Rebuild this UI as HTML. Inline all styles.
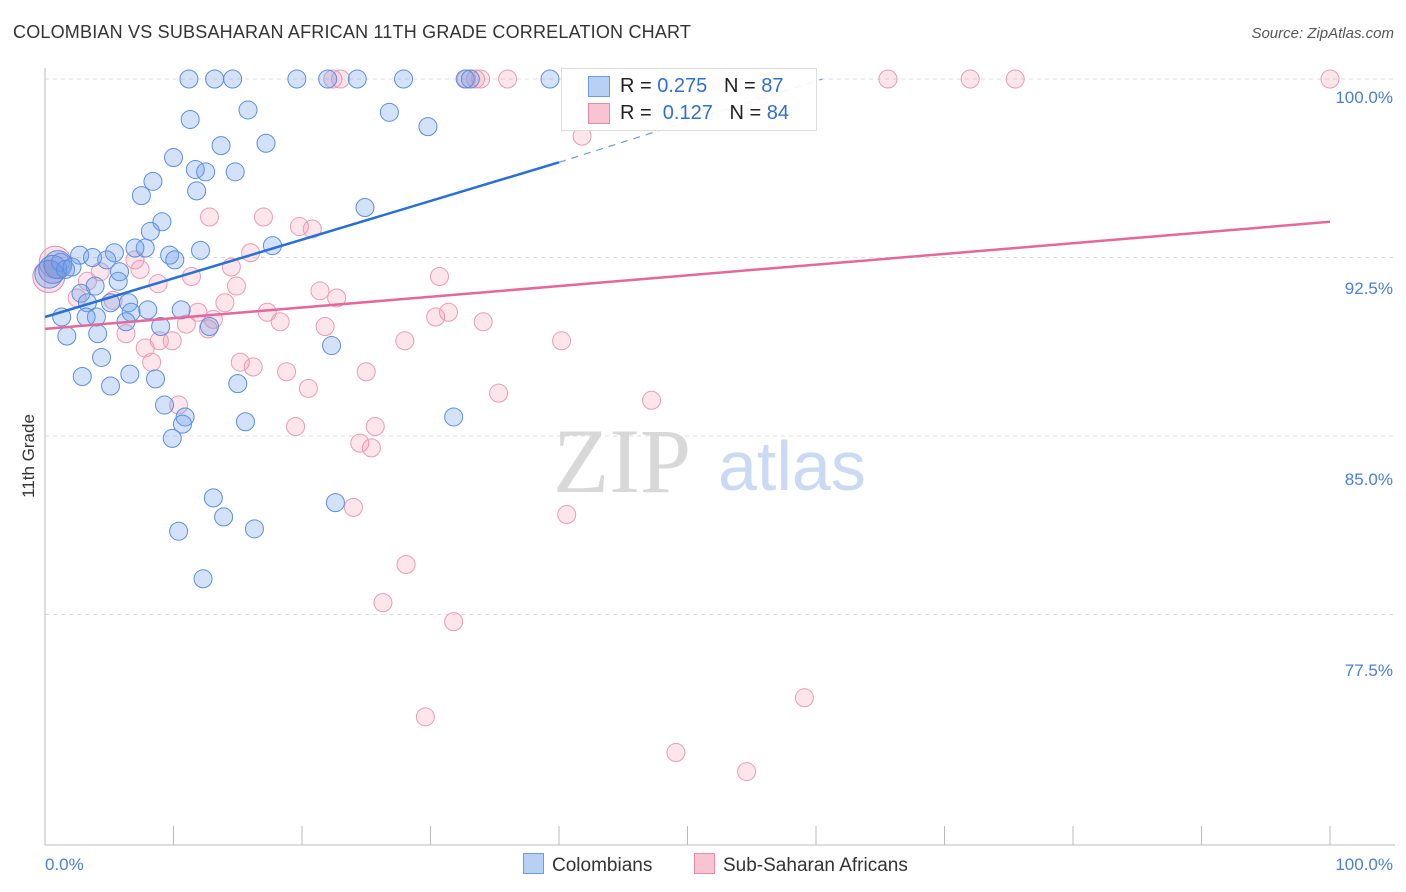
<!DOCTYPE html>
<html><head><meta charset="utf-8">
<style>
body{margin:0;background:#fff;font-family:"Liberation Sans",sans-serif;}
#wrap{position:relative;width:1406px;height:892px;overflow:hidden;}
.t{position:absolute;white-space:nowrap;}
</style></head>
<body>
<div id="wrap">
<div class="t" style="left:13px;top:22px;font-size:18px;color:#333;letter-spacing:0.2px;">COLOMBIAN VS SUBSAHARAN AFRICAN 11TH GRADE CORRELATION CHART</div>
<div class="t" style="right:12px;top:25px;font-size:15px;color:#555;font-style:italic;">Source: ZipAtlas.com</div>
<svg id="svg" width="1406" height="892" style="position:absolute;left:0;top:0"></svg>
</div>
<script>
const yTicks=[100,92.5,85,77.5];
const yTickLabels=["100.0%","92.5%","85.0%","77.5%"];
const xTickLabels=["0.0%","100.0%"];
const blueX=[11.2,13.2,14.6,19.6,22.0,24.3,27.9,32.7,33.1,39.3,11.3,15.8,13.7,17.2,26.8,29.8,8.4,7.5,11.7,12.5,14.8,11.8,10.0,9.1,8.2,24.9,17.7,12.1,7.8,7.0,9.7,10.1,5.4,4.8,2.7,3.7,1.2,1.6,2.1,5.8,5.7,3.9,2.8,3.3,5.1,6.5,6.7,8.0,10.6,12.8,9.0,6.3,1.3,4.0,3.2,1.7,4.1,22.3,4.4,2.9,5.1,6.6,8.6,15.0,9.3,10.9,10.7,9.9,15.6,31.8,13.1,13.9,10.4,16.3,22.6,12.3];
const blueY=[100,100,100,100,100,100,100,100,100,100,98.3,98.7,97.2,97.3,98.6,98.0,95.7,95.1,96.2,96.1,96.1,95.3,96.7,94.0,93.6,94.6,93.0,92.8,92.9,92.9,92.6,92.4,92.7,92.4,92.6,92.5,92.3,92.0,92.1,91.9,91.5,91.3,91.0,90.6,90.6,90.6,90.2,90.3,90.3,89.6,89.6,89.8,90.0,90.0,90.0,89.2,89.3,88.8,88.3,87.5,87.1,87.6,87.4,87.2,86.3,85.8,85.5,84.9,85.6,85.8,82.4,81.6,81.0,81.1,82.2,79.0];
const pinkX=[22.4,23.0,32.8,33.5,33.9,36.0,43.0,52.4,65.6,72.0,75.5,100,41.8,55.6,12.8,17.0,19.8,20.8,30.7,16.0,14.5,11.4,7.0,7.4,4.3,3.3,2.5,5.3,8.8,14.9,21.4,22.7,14.0,11.9,11.0,6.3,8.9,9.9,13.1,17.3,18.3,21.8,30.4,31.4,34.1,40.2,28.0,15.2,16.2,18.8,20.5,25.0,35.3,47.2,10.4,12.7,19.5,24.5,25.4,25.7,24.0,40.6,28.1,26.3,31.8,29.6,59.1,49.1,54.6,8.3,7.8];
const pinkY=[100,100,100,100,100,100,100,100,100,100,100,100,97.6,98.9,94.2,94.2,93.8,93.7,91.7,92.7,92.1,91.7,92.4,92.0,91.9,91.5,90.8,90.7,91.4,91.3,91.1,90.8,90.6,90.2,89.7,89.3,89.0,89.0,89.9,90.2,89.8,89.6,90.0,90.2,89.8,89.0,89.0,88.1,87.9,87.7,87.0,87.7,86.8,86.5,86.3,89.5,85.4,84.7,84.5,85.4,82.0,81.7,79.6,78.0,77.2,73.2,74.0,71.7,70.9,88.1,88.7];
const bigBlueX=[0.6,1.0,0.3];
const bigBlueY=[92.0,92.2,91.8];
const bigPinkX=[0.8,0.3];
const bigPinkY=[92.3,91.7];
const blueTrend=[[0,90.0],[40,96.5]];
const blueTrendDash=[[40,96.5],[60.5,100]];
const pinkTrend=[[0,89.5],[100,94.0]];

const X0=45,X1=1330,Y100=79,PXPER=178.5/7.5,YB=845;
const sx=v=>X0+(X1-X0)*v/100;
const sy=v=>Y100+(100-v)*PXPER;
const svg=document.getElementById('svg');
const NS='http://www.w3.org/2000/svg';
function mk(tag,attrs){const e=document.createElementNS(NS,tag);for(const k in attrs)e.setAttribute(k,attrs[k]);svg.appendChild(e);return e;}

yTicks.forEach((v,i)=>{
  const g=mk('line',{x1:X0,x2:1395,y1:sy(v),y2:sy(v),stroke:'#ddd','stroke-dasharray':'4,4'});
  
  
  const labY=[97,288,479,670][i];
  const t=mk('text',{x:1393,y:labY+6,'text-anchor':'end','font-size':17,fill:'#4a7fd4','font-family':'Liberation Sans, sans-serif'});
  t.textContent=yTickLabels[i];
  
  
});
const ax=mk('line',{x1:X0,x2:1395,y1:YB,y2:YB,stroke:'#bbb'});


const ay=mk('line',{x1:X0,x2:X0,y1:68,y2:YB,stroke:'#bbb'});


for(let i=0;i<=10;i++){
  const tk=mk('line',{x1:sx(i*10),x2:sx(i*10),y1:826,y2:YB,stroke:'#bbb'});
  
  
}
[[45,'start',0],[1393,'end',1]].forEach(([x,a,i])=>{
  const t=mk('text',{x:x,y:870,'text-anchor':a,'font-size':17,fill:'#4a7fd4','font-family':'Liberation Sans, sans-serif'});
  t.textContent=xTickLabels[i];
  
  
});
const yt=mk('text',{x:34,y:456,'text-anchor':'middle','font-size':17,fill:'#333',transform:'rotate(-90 34 456)','font-family':'Liberation Sans, sans-serif'});
yt.textContent='11th Grade';



// watermark
const w1=mk('text',{x:553,y:492,'font-size':92,fill:'#d8d8d8','font-family':'Liberation Serif, serif'});
w1.textContent='ZIP';


const w2=mk('text',{x:718,y:490,'font-size':70,fill:'#c9daf2','font-family':'Liberation Sans, sans-serif'});
w2.textContent='atlas';



function dots(xs,ys,r,fill,stroke,name){
  xs.forEach((v,i)=>{
    const c=mk('circle',{cx:sx(v),cy:sy(ys[i]),r:r,fill:fill,stroke:stroke,'stroke-width':1});
    
    
  });
}
dots(bigPinkX,bigPinkY,16,'rgba(240,140,170,0.25)','#e88aa8','pink-point-large');
dots(bigBlueX,bigBlueY,14,'rgba(90,140,225,0.3)','#5b8fdf','blue-point-large');
dots(pinkX,pinkY,9,'rgba(240,140,170,0.22)','#ec9ab5','pink-point');
dots(blueX,blueY,9,'rgba(110,160,235,0.3)','#5b8fdf','blue-point');

const bl=mk('line',{x1:sx(blueTrend[0][0]),y1:sy(blueTrend[0][1]),x2:sx(blueTrend[1][0]),y2:sy(blueTrend[1][1]),stroke:'#2a6fd6','stroke-width':2.5});


const bd=mk('line',{x1:sx(blueTrendDash[0][0]),y1:sy(blueTrendDash[0][1]),x2:sx(blueTrendDash[1][0]),y2:sy(blueTrendDash[1][1]),stroke:'#6a9be0','stroke-width':1.2,'stroke-dasharray':'7,6'});


const pl=mk('line',{x1:sx(pinkTrend[0][0]),y1:sy(pinkTrend[0][1]),x2:sx(pinkTrend[1][0]),y2:sy(pinkTrend[1][1]),stroke:'#e4689a','stroke-width':2.5});


</script>
<div class="t" style="left:561px;top:68px;width:254px;height:61px;background:rgba(255,255,255,0.92);border:1px solid #ddd;font-size:20px;">
  <div style="position:absolute;left:26px;top:7px;width:20px;height:19px;background:#b7d0f3;border:1px solid #6d9be0;"></div>
  <div class="t" style="left:58px;top:6px;color:#222;">R = <span style="color:#2f6fd0">0.275</span>&nbsp;&nbsp; N = <span style="color:#2f6fd0">87</span></div>
  <div style="position:absolute;left:26px;top:34px;width:20px;height:19px;background:#f8c3d3;border:1px solid #e88aa8;"></div>
  <div class="t" style="left:58px;top:33px;color:#222;">R = &nbsp;<span style="color:#2f6fd0">0.127</span>&nbsp;&nbsp; N = <span style="color:#2f6fd0">84</span></div>
</div>
<div class="t" style="left:523px;top:853px;font-size:19px;color:#333;">
  <span style="display:inline-block;width:19px;height:19px;background:#b7d0f3;border:1px solid #6d9be0;vertical-align:-3px;margin-right:8px;"></span>Colombians</div>
<div class="t" style="left:694px;top:853px;font-size:19px;color:#333;">
  <span style="display:inline-block;width:19px;height:19px;background:#f8c3d3;border:1px solid #e88aa8;vertical-align:-3px;margin-right:8px;"></span>Sub-Saharan Africans</div>
</body></html>
